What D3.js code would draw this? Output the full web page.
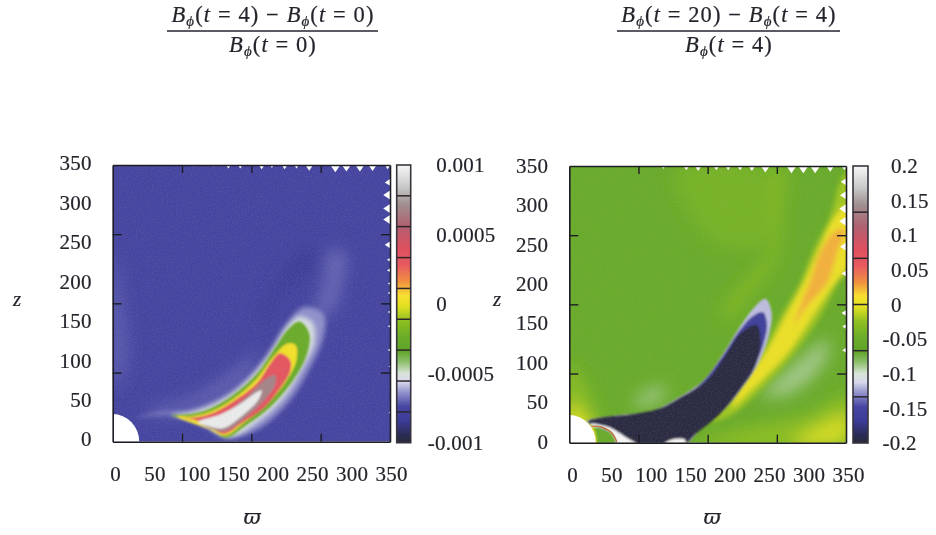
<!DOCTYPE html>
<html><head><meta charset="utf-8">
<script src="https://cdn.jsdelivr.net/npm/d3@7"></script>
<style>html,body{margin:0;background:#fff}svg{display:block}
text{font-family:"Liberation Serif",serif;fill:#26242c;stroke:#26242c;stroke-width:.2}</style></head>
<body><svg id="c" width="936" height="535"></svg>
<script>
// ---- axes ----
const axisLabels=[0,50,100,150,200,250,300,350];
const frameTicks=[87.5,175,262.5];
const leftBarLabels=[0.001,0.0005,0,-0.0005,-0.001];
const rightBarLabels=[0.2,0.15,0.1,0.05,0,-0.05,-0.1,-0.15,-0.2];
const leftBarDividers=[-0.000778,-0.000556,-0.000333,-0.000111,0.000111,0.000333,0.000556,0.000778];
const rightBarDividers=[-0.1333,-0.0667,0,0.0667,0.1333];
// ---- palette: normalised value -> colour ----
const paletteStops=[0,.03,.08,.13,.18,.22,.25,.29,.33,.38,.44,.49,.53,.58,.64,.70,.78,.86,.92,1];
const paletteColors=["#2a2a38","#2c2c58","#3c3c98","#4646a2","#9090cc","#d8d8ec","#d8e4d8","#90c070","#60a428","#6aac2a","#90c020","#e0e020","#f8e030","#f09040","#e85a60","#e05060","#b06070","#a09090","#c8c8c8","#f6f6f6"];
// ---- left panel: iso-value regions [varpi, z] ----
const leftBackground=-0.00075;
const leftSoftLevels=[-0.00084,-0.00069,-0.00071,-0.00069];
const leftSoftRegions=[
 [[249,247],[260,230],[232,200],[211,183],[190,145],[186,158],[207,200],[228,230]],
 [[292,240],[284,183],[274,162],[257,162],[268,200],[274,240]],
 [[0,240],[12,180],[18,100],[5,70],[0,70]],
 [[47,40],[100,55],[156,90],[182,112],[170,85],[130,55],[90,40],[50,36]]];
const leftHaloLevels=[-0.00064,-0.00053];
const leftHaloRegions=[
 [[28,30],[56,37],[98,40],[152,65],[194,108],[220,150],[241,170],[266,162],[266,133],[245,86],[220,48],[182,15],[144,5],[110,23],[77,34],[56,34]],
 [[74,34],[98,37],[123,45],[152,62],[182,90],[203,120],[222,148],[236,158],[252,150],[254,125],[240,95],[215,55],[182,25],[146,5],[115,22],[90,30]]];
const leftLevels=[-0.00024,0.00004,0.00034,0.00068,0.00096];
const leftRegions=[
 [[74,33],[98,35],[123,42],[152,59],[182,86],[203,116],[222,143],[236,152],[248,137],[245,110],[228,78],[199,44],[169,21],[143,5],[123,17],[102,27]],
 [[81,32],[98,32],[123,38],[152,54],[182,80],[203,108],[220,124],[231,122],[232,103],[220,78],[194,46],[167,25],[142,8],[119,17]],
 [[89,30],[98,30],[123,35],[152,51],[182,74],[199,99],[211,112],[224,103],[224,89],[211,67],[190,42],[165,25],[140,10],[119,21],[102,28]],
 [[110,25],[140,36],[169,57],[194,80],[205,84],[205,72],[192,53],[169,32],[140,13]],
 [[108,25],[135,34],[161,48],[182,63],[188,65],[184,53],[165,34],[140,17],[123,19]]];
const leftTopNotchX=[102,127,146,161,188,201,217,232,248,281,295,312,328,347];
const leftTopNotchSize=[1.8,1.8,3.5,3.5,4.2,2.8,4.2,3.5,5.5,7,6.4,6.4,5.9,4.2];
const leftSideNotchZ=[328,312,295,281,249,230,217,200,188,164,146,116,95,37];
const leftSideNotchSize=[4.9,6.3,6.3,6.3,4.9,2.8,2.8,2.1,2.1,2.1,2.1,2.1,1.4,1.4];
// ---- right panel ----
const rightBackground=-0.05;
const rightSoftLevels=[-0.04,-0.032,-0.088,-0.088,-0.028,-0.005,-0.028,-0.008];
const rightSoftRegions=[
 [[136,345],[245,345],[250,252],[195,248],[153,286]],
 [[258,349],[271,349],[269,286],[262,231],[229,189],[199,155],[195,168],[220,202],[254,244]],
 [[81,50],[102,67],[123,71],[115,56],[89,46]],
 [[245,58],[296,109],[326,130],[326,109],[288,67]],
 [[0,100],[18,75],[32,41],[35,0],[0,0]],
 [[0,50],[20,33],[30,20],[32,0],[0,0]],
 [[160,0],[190,10],[240,22],[300,35],[352,60],[352,0]],
 [[283,0],[330,29],[352,37],[352,0]]];
const rightHaloLevels=[-0.02,0.004,0.024];
const rightHaloRegions=[
 [[178,27],[205,55],[216,75],[245,117],[267,159],[292,202],[309,244],[330,286],[342,328],[353,345],[353,225],[340,202],[317,159],[288,117],[250,75],[205,35]],
 [[205,45],[220,75],[250,117],[273,159],[296,202],[315,244],[336,286],[353,300],[353,222],[336,202],[307,159],[279,117],[239,75]],
 [[292,172],[304,202],[319,244],[338,269],[349,269],[340,244],[326,202],[300,172],[285,150]]];
const rightLevels=[-0.118,-0.16,-0.196,0.2,-0.05,0.004,0.2];
const rightRegions=[
 [[22,27],[64,35],[102,39],[136,56],[170,79],[195,113],[216,147],[233,170],[248,182],[256,164],[252,134],[239,100],[220,71],[195,41],[165,16],[146,-2],[85,-2],[51,16]],
 [[24,26],[64,33],[102,37],[136,53],[168,76],[193,108],[214,140],[232,160],[245,165],[250,150],[247,130],[235,98],[217,70],[192,41],[163,16],[145,-2],[85,-2],[52,14]],
 [[23,27],[49,33],[79,36],[113,43],[138,56],[174,79],[199,113],[216,138],[237,149],[242,126],[235,96],[216,67],[191,37],[161,12],[144,-2],[83,-2],[70,8],[54,18],[41,22]],
 [[28,24],[41,22],[54,18],[70,8],[85,-2],[60,-2],[54,12],[41,19],[28,21]],
 [[30,-2],[30,18],[41,18],[54,11],[59,-2]],
 [[24,21],[30,19],[34,-2],[30,-2]],
 [[121,-1],[130,4],[146,4],[147,-1]]];
const rightArc=[[28,21],[41,19.5],[54,12],[60,1]];
const rightTopNotchX=[119,148,163,186,201,216,231,248,281,296,311,330,348];
const rightTopNotchSize=[2.8,4.2,4.9,4.2,4.2,4.2,4.9,6.3,7,7,7,5.6,4.2];
const rightSideNotchZ=[330,313,296,280,248,214,164,147,117];
const rightSideNotchSize=[4.9,5.6,6.3,6.3,5.6,4.2,4.2,3.5,3.5];

const svg=d3.select("#c");
const defs=svg.append("defs");
[["soft",8],["mid",2.4],["sharp",1],["scan",0.45]].forEach(([id,s])=>{
  defs.append("filter").attr("id",id).attr("x","-30%").attr("y","-30%").attr("width","160%").attr("height","160%")
   .append("feGaussianBlur").attr("stdDeviation",s);
});
const grain=defs.append("filter").attr("id","grain").attr("x",0).attr("y",0).attr("width","100%").attr("height","100%");
grain.append("feTurbulence").attr("type","fractalNoise").attr("baseFrequency",.8).attr("numOctaves",1).attr("seed",3);
grain.append("feColorMatrix").attr("values","0 0 0 0 .5  0 0 0 0 .5  0 0 0 0 .5  1.2 0 0 0 -.5");
const palette=d3.scaleLinear().domain(paletteStops).range(paletteColors).clamp(true);
defs.append("linearGradient").attr("id","bar").attr("x1",0).attr("x2",0).attr("y1",1).attr("y2",0)
 .selectAll("stop").data(paletteStops).join("stop")
 .attr("offset",d=>d).attr("stop-color",d=>palette(d));

function panel(o){
 const x=d3.scaleLinear().domain([0,350]).range([o.l,o.r]);
 const y=d3.scaleLinear().domain([0,350]).range([o.b,o.t]);
 const norm=d3.scaleLinear().domain([-o.max,o.max]).range([0,1]);
 const col=v=>palette(norm(v));
 const line=d3.line().x(d=>x(d[0])).y(d=>y(d[1])).curve(d3.curveCatmullRomClosed.alpha(.5));
 const poly=d3.line().x(d=>x(d[0])).y(d=>y(d[1]));
 const cid="clip"+o.id;
 defs.append("clipPath").attr("id",cid).append("rect").attr("x",o.l).attr("y",o.t).attr("width",o.r-o.l).attr("height",o.b-o.t);
 const root=svg.append("g").attr("filter","url(#scan)");
 const g=root.append("g").attr("clip-path",`url(#${cid})`);
 g.append("rect").attr("x",o.l).attr("y",o.t).attr("width",o.r-o.l).attr("height",o.b-o.t).attr("fill",col(o.bg));
 g.append("g").attr("filter","url(#soft)").selectAll("path").data(o.softRegions).join("path")
   .attr("d",line).attr("fill",(d,i)=>col(o.softLevels[i]));
 g.append("g").attr("filter","url(#mid)").selectAll("path").data(o.haloRegions).join("path")
   .attr("d",line).attr("fill",(d,i)=>col(o.haloLevels[i]));
 g.append("g").attr("filter","url(#sharp)").selectAll("path").data(o.regions).join("path")
   .attr("d",line).attr("fill",(d,i)=>col(o.levels[i]));
 if(o.arc) g.append("path").attr("d",d3.line().x(d=>x(d[0])).y(d=>y(d[1])).curve(d3.curveCatmullRom)(o.arc))
   .attr("fill","none").attr("stroke","#c06a3a").attr("stroke-width",1.4);
 g.append("rect").attr("x",o.l).attr("y",o.t).attr("width",o.r-o.l).attr("height",o.b-o.t).attr("filter","url(#grain)").attr("opacity",.28);
 g.append("ellipse").attr("cx",x(0)).attr("cy",y(0)).attr("rx",x(33.5)-x(0)).attr("ry",y(0)-y(35)).attr("fill","#fff");
 // boundary notches
 g.selectAll("path.t").data(o.topX).join("path").attr("class","t").attr("fill","#fff")
   .attr("d",(d,i)=>{const s=o.topS[i];return poly([[d-s,351],[d,350-s*1.3],[d+s,351]])+"Z";});
 g.selectAll("path.s").data(o.sideZ).join("path").attr("class","s").attr("fill","#fff")
   .attr("d",(d,i)=>{const s=o.sideS[i];return poly([[351,d-s],[350-s*1.35,d],[351,d+s]])+"Z";});
 // frame + ticks
 const fr=root.append("g");
 const tick=(ax,tr)=>{const a=fr.append("g").attr("transform",tr).call(ax);
   a.select(".domain").attr("stroke","#1e1c24").attr("stroke-width",1.6);
   a.selectAll(".tick line").attr("stroke","#1e1c24").attr("stroke-width",1.4);
   a.selectAll("text").remove();};
 tick(d3.axisBottom(x).tickValues(frameTicks).tickSize(-8).tickSizeOuter(0),`translate(0,${o.b})`);
 tick(d3.axisTop(x).tickValues(frameTicks).tickSize(-8).tickSizeOuter(0),`translate(0,${o.t})`);
 tick(d3.axisLeft(y).tickValues(frameTicks).tickSize(-9).tickSizeOuter(0),`translate(${o.l},0)`);
 tick(d3.axisRight(y).tickValues(frameTicks).tickSize(-9).tickSizeOuter(0),`translate(${o.r},0)`);
 // labels
 const lx=d3.scaleLinear().domain([0,350]).range(o.labX);
 const ly=d3.scaleLinear().domain([0,350]).range(o.labY);
 const lab=(ax,tr)=>{const a=root.append("g").attr("transform",tr).call(ax);
   a.select(".domain").remove();a.selectAll(".tick line").remove();
   a.attr("font-family",null);a.selectAll("text").attr("font-size",21).attr("letter-spacing",.25);};
 lab(d3.axisBottom(lx).tickValues(axisLabels).tickSize(0).tickPadding(24),`translate(0,${o.b})`);
 lab(d3.axisLeft(ly).tickValues(axisLabels).tickSize(0).tickPadding(21),`translate(${o.l},0)`);
 root.append("text").attr("x",o.zX).attr("y",306).attr("text-anchor","middle").attr("font-size",21).attr("font-style","italic").text("z");
 root.append("text").attr("x",o.wX).attr("y",524).attr("text-anchor","middle").attr("font-size",21).attr("font-style","italic").style("font-family","'DejaVu Serif'").text("\u03D6");
 // colour bar
 const c=d3.scaleLinear().domain([-o.max,o.max]).range([o.bb,o.bt]);
 root.append("rect").attr("x",o.bl).attr("y",o.bt).attr("width",o.bw).attr("height",o.bb-o.bt).attr("fill","url(#bar)").attr("stroke","#38343e").attr("stroke-width",1.6);
 root.append("g").selectAll("line").data(o.dividers).join("line")
   .attr("x1",o.bl).attr("x2",o.bl+o.bw).attr("y1",d=>c(d)).attr("y2",d=>c(d)).attr("stroke","#2c262c").attr("stroke-width",1.5);
 const a=root.append("g").attr("transform",`translate(${o.bl+o.bw},0)`)
   .call(d3.axisRight(c).tickValues(o.barLabels).tickSize(0).tickPadding(o.barPad).tickFormat(d=>String(d)));
 a.select(".domain").remove();a.selectAll(".tick line").remove();a.attr("font-family",null);
 a.selectAll("text").attr("font-size",21).attr("letter-spacing",.25).attr("dx",d=>d<0?-8.5:0);
}
panel({id:"L",l:112.7,r:390,t:165,b:441.7,max:0.001,bg:leftBackground,softRegions:leftSoftRegions,softLevels:leftSoftLevels,
 haloRegions:leftHaloRegions,haloLevels:leftHaloLevels,
 regions:leftRegions,levels:leftLevels,topX:leftTopNotchX,topS:leftTopNotchSize,sideZ:leftSideNotchZ,sideS:leftSideNotchSize,
 labX:[115,391],labY:[439.2,163],zX:17,wX:252,bl:396.7,bw:14,bt:165,bb:442.7,dividers:leftBarDividers,barLabels:leftBarLabels,barPad:25.5});
panel({id:"R",l:569.3,r:846,t:166,b:442.7,max:0.2,bg:rightBackground,softRegions:rightSoftRegions,softLevels:rightSoftLevels,
 haloRegions:rightHaloRegions,haloLevels:rightHaloLevels,
 regions:rightRegions,levels:rightLevels,topX:rightTopNotchX,topS:rightTopNotchSize,sideZ:rightSideNotchZ,sideS:rightSideNotchSize,arc:rightArc,
 labX:[572,848],labY:[441.5,165.5],zX:497,wX:712,bl:853,bw:15,bt:166,bb:443,dividers:rightBarDividers,barLabels:rightBarLabels,barPad:23});

// fraction titles
function frac(cx,y1,y2,lx1,lx2,a,b,den){
 const g=svg.append("g").attr("filter","url(#scan)").attr("font-size",22.5).attr("letter-spacing",1.1);
 const term=(t,v)=>{t.append("tspan").attr("font-style","italic").text("B");
   t.append("tspan").attr("font-style","italic").attr("font-size",15).attr("dy",4).text("\u03D5");
   t.append("tspan").attr("dy",-4).text("(");t.append("tspan").attr("font-style","italic").text("t");
   t.append("tspan").text(` = ${v})`);};
 const n=g.append("text").attr("x",cx).attr("y",y1).attr("text-anchor","middle");
 term(n,a);n.append("tspan").text(" \u2212 ");term(n,b);
 g.append("line").attr("x1",lx1).attr("x2",lx2).attr("y1",31).attr("y2",31).attr("stroke","#26242c").attr("stroke-width",1.4);
 const d=g.append("text").attr("x",cx).attr("y",y2).attr("text-anchor","middle");
 term(d,den);
}
frac(273,22,52,167,378,4,0,0);
frac(729,22,52,617,840,20,4,4);
</script></body></html>
